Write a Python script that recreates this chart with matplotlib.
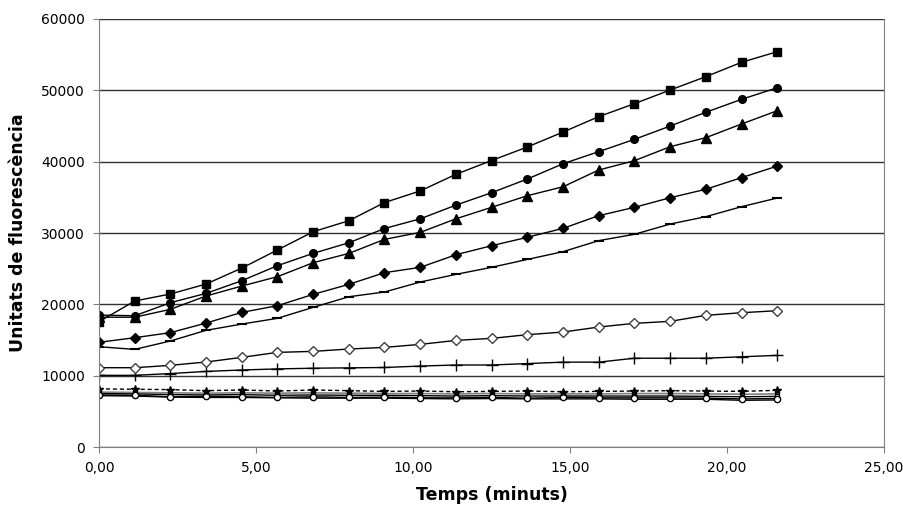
import numpy as np
import matplotlib
matplotlib.use('Agg')
import matplotlib.pyplot as plt
from matplotlib.ticker import FuncFormatter

# temps de lectura (minuts)
temps = [0.00, 1.14, 2.27, 3.41, 4.55, 5.68, 6.82, 7.96, 9.09, 10.23,
         11.37, 12.50, 13.64, 14.78, 15.91, 17.05, 18.19, 19.32, 20.46, 21.60]

quadrat = [17570, 20470, 21450, 22850, 25090, 27620, 30180, 31730, 34270, 35900,
           38240, 40160, 42060, 44160, 46310, 48130, 50050, 51910, 53930, 55420]
cercle = [18500, 18400, 20230, 21540, 23320, 25420, 27150, 28640, 30630, 31990,
          33920, 35650, 37570, 39720, 41400, 43130, 45000, 46920, 48740, 50370]
triangle = [18200, 18200, 19300, 21170, 22570, 23880, 25840, 27150, 29110, 30090,
            32000, 33600, 35230, 36490, 38830, 40140, 42100, 43360, 45280, 47150]
rombe = [14680, 15330, 16030, 17380, 18880, 19810, 21400, 22810, 24440, 25190,
         26960, 28220, 29400, 30660, 32430, 33600, 34950, 36130, 37760, 39390]
guio = [14060, 13690, 14860, 16360, 17240, 18040, 19580, 21070, 21730, 23130,
        24210, 25190, 26300, 27390, 28930, 29820, 31260, 32290, 33690, 34910]
rombe_buit = [11120, 11120, 11450, 11920, 12570, 13270, 13410, 13740, 13970, 14390,
              14950, 15230, 15750, 16120, 16820, 17340, 17620, 18460, 18830, 19110]
creu = [10050, 10050, 10300, 10600, 10800, 10950, 11050, 11100, 11150, 11350,
        11500, 11500, 11700, 11900, 11900, 12450, 12450, 12450, 12650, 12850]

# series baixes (controls)
asterisc = [8150, 8100, 8050, 7900, 8000, 7850, 8000, 7900, 7800, 7850,
            7750, 7800, 7850, 7750, 7800, 7850, 7900, 7850, 7800, 7950]
gris = [7700, 7650, 7600, 7550, 7600, 7550, 7600, 7550, 7500, 7500,
        7450, 7500, 7450, 7450, 7450, 7500, 7500, 7450, 7400, 7450]
negre = [7500, 7450, 7350, 7300, 7350, 7250, 7300, 7250, 7250, 7200,
         7150, 7200, 7150, 7150, 7150, 7150, 7150, 7100, 7050, 7100]
cercle_buit = [7300, 7250, 7050, 7100, 7050, 6950, 7050, 6950, 7000, 6900,
               6900, 6950, 6850, 6950, 6900, 6900, 6900, 6850, 6750, 6800]
baix = [7200, 7150, 7000, 6950, 6950, 6900, 6850, 6850, 6850, 6800,
        6750, 6800, 6750, 6750, 6750, 6700, 6700, 6700, 6550, 6600]

fig = plt.figure(figsize=(9.04, 5.08), dpi=100)
ax = fig.add_axes([0.1095, 0.12, 0.8685, 0.8426])

ax.grid(True, axis='y', color='#303030', lw=1.0)
ax.set_axisbelow(True)

ax.plot(temps, baix, color='black', lw=1)
ax.plot(temps, gris, color='#808080', lw=1.2)
ax.plot(temps, negre, color='black', lw=1, marker='s', ms=3.5, mfc='white', mec='black')
ax.plot(temps, cercle_buit, color='black', lw=1, marker='o', ms=4.5, mfc='white', mec='black')
ax.plot(temps, asterisc, color='black', lw=1, ls=(0, (3, 2)), marker='*', ms=6, mfc='black', mec='black')

ax.plot(temps, creu, color='black', lw=1, marker='+', ms=8, mew=1)
ax.plot(temps, rombe_buit, color='black', lw=1, marker='D', ms=5.5, mfc='white', mec='#404040')
ax.plot(temps, guio, color='black', lw=1, marker='_', ms=7, mew=1.5)
ax.plot(temps, rombe, color='black', lw=1, marker='D', ms=5)
ax.plot(temps, triangle, color='black', lw=1, marker='^', ms=6.5)
ax.plot(temps, cercle, color='black', lw=1, marker='o', ms=5.5)
ax.plot(temps, quadrat, color='black', lw=1, marker='s', ms=5.5)

ax.set_xlim(0, 25)
ax.set_ylim(0, 60000)
ax.set_xticks([0, 5, 10, 15, 20, 25])
ax.set_yticks(np.arange(0, 60001, 10000))
ax.xaxis.set_major_formatter(FuncFormatter(lambda v, p: f"{v:.2f}".replace('.', ',')))
ax.tick_params(axis='both', direction='out', length=4, color='#808080',
               labelsize=10, labelcolor='black', pad=6)

for s in ['left', 'bottom', 'right']:
    ax.spines[s].set_color('#808080')
ax.spines['top'].set_visible(False)

ax.set_xlabel('Temps (minuts)', fontsize=12.5, fontweight='bold', labelpad=8)
ax.set_ylabel('Unitats de fluorescència', fontsize=12.5, fontweight='bold', labelpad=10)

fig.savefig('out.png', dpi=100)
